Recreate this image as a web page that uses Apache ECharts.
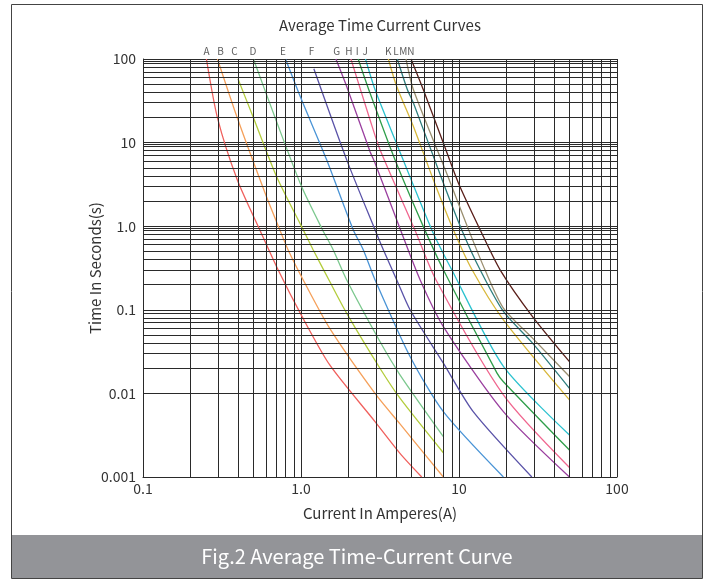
<!DOCTYPE html>
<html>
<head>
<meta charset="utf-8">
<script src="https://cdn.jsdelivr.net/npm/echarts@6/dist/echarts.min.js"></script>
<style>
html, body { margin: 0; padding: 0; background: #fff; }
#chart { width: 709px; height: 579px; }
</style>
</head>
<body>
<div id="chart"></div>
<script>
// curve names and colours
const curveNames = ['A', 'B', 'C', 'D', 'E', 'F', 'G', 'H', 'I', 'J', 'K', 'L', 'M', 'N'];
const curveColors = ['#f0605d', '#f5a05a', '#b3cc3c', '#7cc88e', '#4a94d6', '#5a53a8', '#9a3f9f',
  '#f0668f', '#2f9e4a', '#2cc2cf', '#d8b83c', '#2f7e7e', '#9a8f70', '#5a1f1a'];

// [current (A), time (s)]
const curveA = [[0.252, 100], [0.296, 19.8], [0.395, 3.6], [0.548, 0.908], [0.716, 0.301], [1.016, 0.083], [1.52, 0.0219], [2.94, 0.0046], [4.23, 0.00192], [5.81, 0.001]];
const curveB = [[0.296, 100], [0.395, 19.8], [0.598, 2.38], [0.734, 0.908], [0.828, 0.523], [1.031, 0.229], [1.52, 0.060], [2.94, 0.01], [4.23, 0.00431], [7.96, 0.001]];
const curveC = [[0.399, 57.9], [0.5, 19.8], [0.699, 3.95], [1.007, 0.995], [1.193, 0.523], [1.52, 0.218], [1.944, 0.0913], [3.16, 0.02], [4.23, 0.00877], [7.96, 0.00195]];
const curveD = [[0.5, 100], [0.699, 18.0], [1.007, 3.0], [1.368, 0.908], [1.598, 0.523], [1.944, 0.229], [3.16, 0.0417], [4.23, 0.0167], [7.96, 0.00304]];
const curveE = [[0.798, 100], [1.007, 32.7], [1.451, 6.26], [2.14, 0.908], [2.477, 0.523], [2.94, 0.229], [4.9, 0.0276], [7.96, 0.00605], [19.1, 0.001]];
const curveF = [[1.206, 76.3], [1.944, 6.26], [2.94, 0.908], [3.32, 0.523], [4.03, 0.229], [4.9, 0.1], [7.96, 0.023], [12.3, 0.00605], [28.9, 0.001]];
const curveG = [[1.663, 100], [1.944, 47.2], [2.73, 7.87], [2.94, 5.71], [4.26, 0.908], [5.67, 0.229], [7.96, 0.063], [19.1, 0.00605], [50, 0.001]];
const curveH = [[2.07, 100], [2.73, 18.9], [3.16, 8.25], [5.25, 0.908], [7.14, 0.229], [19.1, 0.0096], [50, 0.0013]];
const curveI = [[2.30, 100], [2.73, 39.4], [3.93, 6.26], [5.94, 0.995], [7.96, 0.301], [17.4, 0.0175], [19.1, 0.0138], [50, 0.0021]];
const curveJ = [[2.56, 100], [2.94, 43.1], [3.93, 10.9], [6.72, 0.908], [9.0, 0.301], [19.1, 0.021], [50, 0.00318]];
const curveK = [[3.57, 100], [4.03, 47.2], [5.14, 15.7], [6.88, 3.6], [9.21, 0.908], [12.1, 0.301], [19.1, 0.0759], [50, 0.00836]];
const curveL = [[4.07, 100], [4.71, 43.1], [5.14, 29.9], [7.96, 3.29], [10.4, 0.908], [13.6, 0.301], [19.1, 0.0955], [29.2, 0.0399], [50, 0.0115]];
const curveM = [[4.62, 100], [5.14, 43.1], [8.5, 3.95], [11.5, 0.908], [14.6, 0.301], [19.1, 0.105], [29.2, 0.0458], [50, 0.0159]];
const curveN = [[4.97, 100], [5.94, 43.1], [7.96, 9.9], [9.91, 3.29], [13.6, 0.908], [18.2, 0.301], [29.2, 0.083], [50, 0.024]];
const curves = [curveA, curveB, curveC, curveD, curveE, curveF, curveG, curveH, curveI, curveJ, curveK, curveL, curveM, curveN];

// where the letters sit above the grid (current)
const labelCurrents = [0.252, 0.31, 0.379, 0.497, 0.77, 1.166, 1.68, 2.01, 2.27, 2.55, 3.57, 3.99, 4.44, 4.95];

// grid lines between the decades
const xMinor = [0.2, 0.3, 0.4, 0.5, 0.6, 0.7, 0.8, 0.9, 2, 3, 4, 5, 6, 7, 8, 9, 20, 30, 40, 50, 60, 70, 80, 90];
const yDecades = [0.001, 0.01, 0.1, 1, 10];
const yMults = [2, 3, 4, 5, 6, 7, 8, 9, 9.5];
const yMinor = [];
yDecades.forEach(d => yMults.forEach(m => yMinor.push(Number((d * m).toPrecision(3)))));

const font = '"Noto Sans CJK SC", "Noto Sans", sans-serif';
const gridColor = '#2a2a2a';

function tickText(v) {
  const r = Number(v.toPrecision(2));
  return r === 1 ? '1.0' : String(r);
}

const chart = echarts.init(document.getElementById('chart'));

const series = curves.map((data, i) => ({
  name: curveNames[i],
  type: 'line',
  data: data,
  showSymbol: false,
  smooth: 0.25,
  silent: true,
  lineStyle: { color: curveColors[i], width: 1.3 },
  z: 3
}));

series.push({
  type: 'scatter',
  symbolSize: 0,
  clip: false,
  silent: true,
  data: labelCurrents.map((x, i) => ({ value: [x, 100], name: curveNames[i] })),
  label: {
    show: true,
    position: 'top',
    distance: 3,
    formatter: p => p.name,
    fontSize: 10,
    color: '#333',
    fontFamily: font
  },
  markLine: {
    silent: true,
    symbol: ['none', 'none'],
    animation: false,
    label: { show: false },
    lineStyle: { color: gridColor, width: 1, type: 'solid' },
    data: xMinor.map(v => ({ xAxis: v })).concat(yMinor.map(v => ({ yAxis: v })))
  },
  z: 2
});

chart.setOption({
  animation: false,
  grid: { left: 143, top: 59, width: 474, height: 418 },
  xAxis: {
    type: 'log',
    logBase: 10,
    min: 0.1,
    max: 100,
    name: 'Current In Amperes(A)',
    nameLocation: 'middle',
    nameGap: 29,
    nameMoveOverlap: false,
    nameTextStyle: { fontSize: 15, color: '#333', fontFamily: font },
    axisLine: { show: true, lineStyle: { color: gridColor } },
    axisTick: { show: false },
    axisLabel: { fontSize: 14, color: '#333', margin: 5, fontFamily: font, formatter: tickText },
    splitLine: { show: true, lineStyle: { color: gridColor, width: 1 } },
    minorSplitLine: { show: false }
  },
  yAxis: {
    type: 'log',
    logBase: 10,
    min: 0.001,
    max: 100,
    name: 'Time In Seconds(s)',
    nameLocation: 'middle',
    nameGap: 40,
    nameMoveOverlap: false,
    nameTextStyle: { fontSize: 15, color: '#333', fontFamily: font },
    axisLine: { show: true, lineStyle: { color: gridColor } },
    axisTick: { show: false },
    axisLabel: { fontSize: 14, color: '#333', margin: 7, fontFamily: font, formatter: tickText },
    splitLine: { show: true, lineStyle: { color: gridColor, width: 1 } }
  },
  graphic: [
    {
      type: 'rect',
      shape: { x: 11.5, y: 4.5, width: 691, height: 574 },
      style: { fill: 'none', stroke: '#444', lineWidth: 1 },
      z: -1
    },
    {
      type: 'rect',
      shape: { x: 12, y: 535, width: 690, height: 43 },
      style: { fill: '#939498' }
    },
    {
      type: 'text',
      x: 357,
      y: 556,
      style: {
        text: 'Fig.2 Average Time-Current Curve',
        fill: '#fff',
        font: '20px ' + font,
        textAlign: 'center',
        textVerticalAlign: 'middle'
      }
    },
    {
      type: 'text',
      x: 380,
      y: 25,
      style: {
        text: 'Average Time Current Curves',
        fill: '#333',
        font: '15px ' + font,
        textAlign: 'center',
        textVerticalAlign: 'middle'
      }
    }
  ],
  series: series
});
</script>
</body>
</html>
